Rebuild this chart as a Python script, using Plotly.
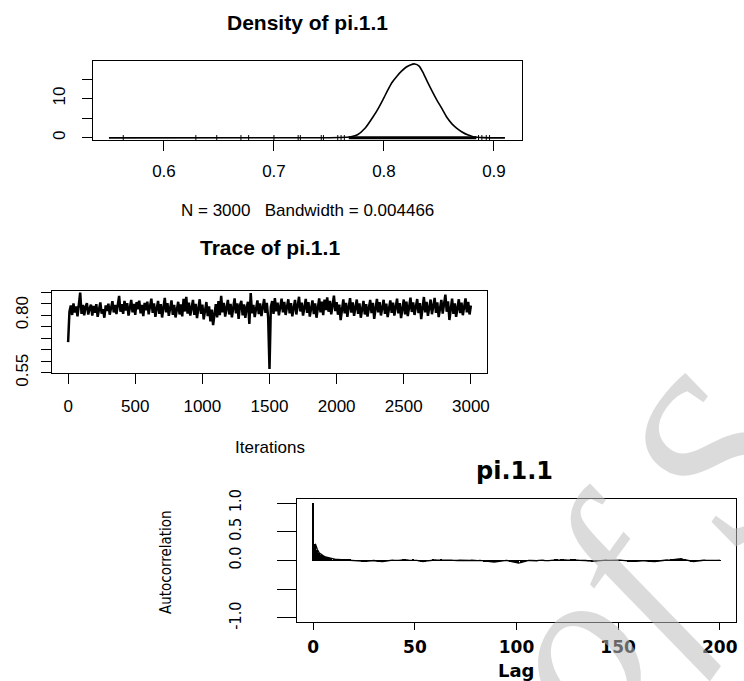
import plotly.graph_objects as go

W, H = 744, 681

# ---------------- data ----------------
density_x = [0.550, 0.700, 0.760, 0.770, 0.776, 0.783, 0.790, 0.795, 0.799, 0.803,
             0.807, 0.812, 0.816, 0.820, 0.824, 0.828, 0.832, 0.836, 0.840, 0.844,
             0.848, 0.853, 0.857, 0.862, 0.866, 0.871, 0.876, 0.881, 0.890, 0.910]
density_y = [0.0, 0.02, 0.1, 0.3, 0.8, 2.5, 5.3, 7.6, 9.7, 11.9,
             14.0, 15.8, 17.0, 18.0, 18.6, 18.85, 18.3, 16.4, 14.0, 11.8,
             9.7, 7.3, 5.3, 3.5, 2.5, 1.5, 0.76, 0.3, 0.05, 0.0]
rug_sparse = [0.563, 0.629, 0.648, 0.670, 0.677, 0.700, 0.722, 0.724, 0.743, 0.745,
              0.758, 0.761, 0.764, 0.886, 0.889, 0.893, 0.896]
rug_dense_range = [0.768, 0.884]
density_ticks = [0.6, 0.7, 0.8, 0.9]
density_yticks = [0, 5, 10, 15]
density_yticktext = ["0", "", "10", ""]

trace_step = 10
trace_values = [
    0.683, 0.815, 0.842, 0.801, 0.851, 0.812, 0.838, 0.795, 0.847, 0.898, 0.806, 0.845, 0.799, 0.836, 0.852, 0.803, 0.829, 0.846, 0.798, 0.840,
    0.811, 0.848, 0.793, 0.835, 0.855, 0.807, 0.826, 0.789, 0.843, 0.818, 0.850, 0.802, 0.839, 0.861, 0.812, 0.844, 0.805, 0.858, 0.884, 0.815,
    0.848, 0.806, 0.862, 0.820, 0.852, 0.798, 0.841, 0.866, 0.812, 0.849, 0.801, 0.857, 0.826, 0.863, 0.808, 0.845, 0.796, 0.853, 0.821, 0.859,
    0.804, 0.846, 0.872, 0.810, 0.851, 0.793, 0.838, 0.862, 0.806, 0.848, 0.790, 0.843, 0.875, 0.812, 0.852, 0.797, 0.837, 0.864, 0.801, 0.845,
    0.790, 0.833, 0.858, 0.803, 0.847, 0.795, 0.871, 0.816, 0.880, 0.807, 0.854, 0.798, 0.842, 0.866, 0.801, 0.849, 0.787, 0.838, 0.869, 0.806,
    0.846, 0.782, 0.830, 0.857, 0.796, 0.838, 0.773, 0.824, 0.757, 0.816, 0.848, 0.790, 0.861, 0.800, 0.884, 0.812, 0.853, 0.794, 0.842, 0.866,
    0.803, 0.849, 0.791, 0.836, 0.873, 0.808, 0.851, 0.784, 0.843, 0.862, 0.799, 0.847, 0.788, 0.834, 0.858, 0.762, 0.896, 0.808, 0.845, 0.792,
    0.839, 0.864, 0.805, 0.851, 0.796, 0.842, 0.870, 0.810, 0.853, 0.790, 0.566, 0.836, 0.861, 0.806, 0.874, 0.817, 0.855, 0.799, 0.847, 0.872,
    0.812, 0.858, 0.801, 0.845, 0.869, 0.808, 0.852, 0.795, 0.840, 0.866, 0.803, 0.849, 0.880, 0.816, 0.854, 0.798, 0.843, 0.871, 0.810, 0.857,
    0.794, 0.838, 0.864, 0.805, 0.851, 0.789, 0.845, 0.873, 0.812, 0.859, 0.800, 0.868, 0.822, 0.877, 0.815, 0.862, 0.804, 0.849, 0.885, 0.818,
    0.857, 0.802, 0.846, 0.779, 0.838, 0.869, 0.808, 0.853, 0.793, 0.845, 0.874, 0.811, 0.856, 0.797, 0.841, 0.868, 0.806, 0.851, 0.789, 0.836,
    0.862, 0.803, 0.848, 0.794, 0.840, 0.866, 0.809, 0.854, 0.784, 0.843, 0.871, 0.812, 0.857, 0.799, 0.846, 0.867, 0.806, 0.850, 0.792, 0.839,
    0.864, 0.810, 0.855, 0.798, 0.845, 0.872, 0.808, 0.852, 0.787, 0.841, 0.868, 0.803, 0.859, 0.796, 0.848, 0.876, 0.814, 0.856, 0.801, 0.844,
    0.870, 0.809, 0.853, 0.783, 0.846, 0.879, 0.812, 0.858, 0.797, 0.842, 0.868, 0.804, 0.851, 0.875, 0.810, 0.856, 0.792, 0.838, 0.866, 0.807,
    0.853, 0.889, 0.815, 0.860, 0.779, 0.843, 0.872, 0.806, 0.851, 0.793, 0.840, 0.869, 0.809, 0.855, 0.800, 0.846, 0.873, 0.812, 0.858, 0.803,
    0.842,
]
trace_xticks = [0, 500, 1000, 1500, 2000, 2500, 3000]
trace_yticks = [0.55, 0.60, 0.65, 0.70, 0.75, 0.80, 0.85, 0.90]
trace_yticktext = ["0.55", "", "", "", "", "0.80", "", ""]

acf_values = [
    1.0, 0.29, 0.19, 0.13, 0.10, 0.08, 0.06, 0.05, 0.04, 0.03, 0.025,
    0.02, 0.018, 0.015, 0.012, 0.01, 0.012, 0.015, 0.01, 0.008, 0.005, 0.003, 0.0, -0.005, -0.012, -0.018, -0.015, -0.008, -0.002, 0.003, 0.0,
    -0.008, -0.015, -0.02, -0.018, -0.012, -0.005, 0.0, 0.004, 0.006, 0.003, -0.002, 0.002, 0.006, 0.01, 0.012, 0.008, 0.004, 0.006, 0.01, 0.007,
    0.002, -0.006, -0.012, -0.016, -0.01, -0.004, 0.002, 0.006, 0.01, 0.008, 0.004, 0.006, 0.009, 0.005, 0.001, 0.004, 0.008, 0.006, 0.002, -0.003,
    0.001, 0.005, 0.003, -0.004, -0.008, -0.005, 0.0, 0.004, -0.002, -0.006, -0.003, 0.002, -0.004, -0.01, -0.014, -0.018, -0.02, -0.024, -0.026, -0.02,
    -0.012, -0.006, 0.0, 0.004, 0.002, -0.004, -0.012, -0.022, -0.032, -0.04, -0.045, -0.038, -0.025, -0.012, -0.004, 0.002, 0.0, -0.005, -0.008, -0.004,
    0.002, 0.006, 0.004, -0.002, -0.006, -0.003, 0.003, 0.008, 0.012, 0.01, 0.006, 0.009, 0.012, 0.008, 0.004, 0.006, 0.01, 0.014, 0.011, 0.006,
    0.003, 0.006, 0.004, 0.0, -0.004, -0.008, -0.012, -0.016, -0.012, -0.006, 0.0, 0.004, 0.008, 0.006, 0.002, 0.004, 0.006, 0.003, -0.001, 0.002,
    0.005, 0.002, -0.003, -0.008, -0.012, -0.015, -0.018, -0.016, -0.012, -0.008, -0.004, 0.0, -0.003, -0.008, -0.012, -0.016, -0.02, -0.018, -0.014, -0.008,
    -0.004, 0.0, 0.004, 0.008, 0.006, 0.01, 0.016, 0.022, 0.03, 0.034, 0.03, 0.02, 0.01, 0.0, -0.008, -0.014, -0.018, -0.012, -0.005, 0.0,
    0.003, 0.005, 0.004, 0.006, 0.003, 0.004, 0.006, 0.003, 0.002, 0.004,
]
acf_xticks = [0, 50, 100, 150, 200]
acf_yticks = [-1.0, -0.5, 0.0, 0.5, 1.0]
acf_yticktext = ["-1.0", "", "0.0", "0.5", "1.0"]

# ---------------- helpers ----------------
def px_x(p):
    return p / W

def px_y(p):
    return 1 - p / H

SANS = "Liberation Sans, Arial, Helvetica, sans-serif"
NARROW = "Liberation Sans Narrow, DejaVu Sans Condensed, Arial Narrow, sans-serif"
WIDE = "DejaVu Sans, Verdana, sans-serif"

iterations = [i * trace_step for i in range(len(trace_values))]
lags = list(range(len(acf_values)))

fig = go.Figure()

# Density
fig.add_trace(go.Scatter(x=density_x, y=density_y, mode="lines", line=dict(color="black", width=1.6, shape="spline", smoothing=0.6),
                         xaxis="x", yaxis="y", hoverinfo="skip"))
fig.add_trace(go.Scatter(x=rug_dense_range, y=[0, 0], mode="lines", line=dict(color="black", width=3),
                         xaxis="x", yaxis="y", hoverinfo="skip"))
fig.add_trace(go.Scatter(x=rug_sparse, y=[0] * len(rug_sparse), mode="markers",
                         marker=dict(symbol="line-ns", size=4, line=dict(color="black", width=1)),
                         xaxis="x", yaxis="y", hoverinfo="skip"))

# Trace
fig.add_trace(go.Scatter(x=iterations, y=trace_values, mode="lines", line=dict(color="black", width=2.5),
                         xaxis="x2", yaxis="y2", hoverinfo="skip"))

# ACF (type = "h")
fig.add_trace(go.Scatter(x=[lags[0], lags[-1]], y=[0, 0], mode="lines", line=dict(color="black", width=1),
                         xaxis="x3", yaxis="y3", hoverinfo="skip"))
fig.add_trace(go.Bar(x=lags, y=acf_values, width=0.55, marker=dict(color="black", line=dict(width=0)),
                     xaxis="x3", yaxis="y3", hoverinfo="skip"))
fig.add_trace(go.Scatter(x=lags[1:], y=acf_values[1:], mode="lines", line=dict(color="black", width=1.4),
                         xaxis="x3", yaxis="y3", hoverinfo="skip"))

axis_common = dict(showline=True, mirror=True, linecolor="black", linewidth=1, showgrid=False, zeroline=False,
                   ticks="outside", tickcolor="black", tickwidth=1, fixedrange=True, automargin=False)

fig.update_layout(
    width=W, height=H, margin=dict(l=0, r=0, t=0, b=0, pad=0, autoexpand=False), autosize=False,
    paper_bgcolor="white", plot_bgcolor="white", showlegend=False, bargap=0,
    xaxis=dict(axis_common, domain=[px_x(93), px_x(522)], range=[0.5355, 0.9255], anchor="y",
               tickvals=density_ticks, ticktext=[f"{v:.1f}" for v in density_ticks], ticklen=10,
               tickfont=dict(family=SANS, size=17, color="black"), ticklabelstandoff=6),
    yaxis=dict(axis_common, domain=[px_y(140), px_y(61)], range=[-0.55, 19.6], anchor="x",
               tickvals=density_yticks, ticktext=density_yticktext, ticklen=10, tickangle=-90,
               tickfont=dict(family=SANS, size=17, color="black"), ticklabelstandoff=10),
    xaxis2=dict(axis_common, domain=[px_x(52), px_x(487)], range=[-120, 3120], anchor="y2",
                tickvals=trace_xticks, ticktext=[str(v) for v in trace_xticks], ticklen=10,
                tickfont=dict(family=SANS, size=17, color="black"), ticklabelstandoff=8),
    yaxis2=dict(axis_common, domain=[px_y(373), px_y(291)], range=[0.549, 0.905], anchor="x2",
                tickvals=trace_yticks, ticktext=trace_yticktext, ticklen=10, tickangle=-90,
                tickfont=dict(family=SANS, size=17, color="black"), ticklabelstandoff=6),
    xaxis3=dict(axis_common, domain=[px_x(297), px_x(736)], range=[-8, 208], anchor="y3",
                tickvals=acf_xticks, ticktext=[str(v) for v in acf_xticks], ticklen=7,
                tickfont=dict(family=WIDE, size=17, color="black", weight="bold"), ticklabelstandoff=3),
    yaxis3=dict(axis_common, domain=[px_y(622), px_y(499)], range=[-1.07, 1.07], anchor="x3",
                tickvals=acf_yticks, ticktext=acf_yticktext, ticklen=19, tickangle=-90,
                tickfont=dict(family=NARROW, size=16, color="black"), ticklabelstandoff=30),
)

def ann(text, x, y, size, family=SANS, bold=False, angle=0, color="black", style="normal"):
    fig.add_annotation(text=text, x=px_x(x), y=px_y(y), xref="paper", yref="paper",
                       xanchor="center", yanchor="middle", showarrow=False, textangle=angle,
                       font=dict(family=family, size=size, color=color,
                                 weight="bold" if bold else "normal", style=style))

# watermark (light grey, diagonal)
ann("of S", 640, 558, 235, family="Liberation Serif, DejaVu Serif, serif", angle=-54,
    color="rgba(190,190,190,0.55)", style="italic")

ann("Density of pi.1.1", 307, 22, 21, bold=True)
ann("N = 3000\u00a0\u00a0 Bandwidth = 0.004466", 307, 211, 17)
ann("Trace of pi.1.1", 270, 248, 21, bold=True)
ann("Iterations", 270, 447, 17)
ann("pi.1.1", 514, 471, 24, family=WIDE, bold=True)
ann("Lag", 516, 670, 18, family=WIDE, bold=True)
ann("Autocorrelation", 166, 562, 15, family=NARROW, angle=-90)

fig.write_html("out.html", config={"displayModeBar": False, "responsive": False},
               post_script="document.body.style.margin='0';")
